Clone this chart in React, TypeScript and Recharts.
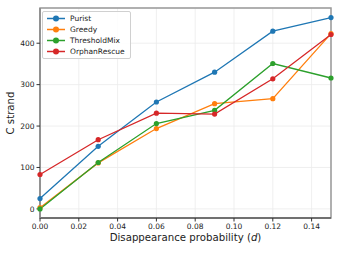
import React from 'react';
import { LineChart, Line, XAxis, YAxis, CartesianGrid, ReferenceArea } from 'recharts';

const probabilities = [0, 0.03, 0.06, 0.09, 0.12, 0.15];
const purist = [25, 151, 258, 330, 429, 462];
const greedy = [3, 111, 194, 254, 266, 423];
const thresholdMix = [0, 112, 206, 238, 351, 316];
const orphanRescue = [83, 167, 231, 229, 314, 421];

const xTicks = [0, 0.02, 0.04, 0.06, 0.08, 0.1, 0.12, 0.14];
const yTicks = [0, 100, 200, 300, 400];

const SERIES = [
  { key: 'purist', name: 'Purist', color: '#1f77b4' },
  { key: 'greedy', name: 'Greedy', color: '#ff7f0e' },
  { key: 'thresholdMix', name: 'ThresholdMix', color: '#2ca02c' },
  { key: 'orphanRescue', name: 'OrphanRescue', color: '#d62728' },
];

const data = probabilities.map((d, i) => ({
  d,
  purist: purist[i],
  greedy: greedy[i],
  thresholdMix: thresholdMix[i],
  orphanRescue: orphanRescue[i],
}));

const FONT = '"DejaVu Sans", sans-serif';

const LegendBox = () => (
  <div
    style={{
      position: 'absolute',
      left: 42,
      top: 11,
      border: '1px solid #d0d0d0',
      borderRadius: 2,
      background: 'rgba(255,255,255,0.85)',
      padding: '1px 5px 1px 3px',
      fontFamily: FONT,
      fontSize: 7.5,
      color: '#222',
      lineHeight: '11px',
    }}
  >
    {SERIES.map((s) => (
      <div key={s.key} style={{ display: 'flex', alignItems: 'center' }}>
        <svg width={20} height={11} style={{ marginRight: 4 }}>
          <line x1={1} y1={5.5} x2={19} y2={5.5} stroke={s.color} strokeWidth={1.5} />
          <circle cx={10} cy={5.5} r={3} fill={s.color} />
        </svg>
        {s.name}
      </div>
    ))}
  </div>
);

export default function App() {
  return (
    <div style={{ position: 'absolute', left: 0, top: 0, width: 339, height: 254, background: '#fff' }}>
      <LineChart width={339} height={254} data={data} margin={{ top: 8, right: 8, left: 0, bottom: 0 }}>
        <CartesianGrid stroke="#ebebeb" strokeWidth={0.8} />
        <XAxis
          dataKey="d"
          type="number"
          domain={[0, 0.15]}
          ticks={xTicks}
          tickFormatter={(v: number) => v.toFixed(2)}
          height={36}
          tickSize={3.5}
          tick={{ fontSize: 7.5, fill: '#222', fontFamily: FONT }}
          axisLine={{ stroke: '#333', strokeWidth: 1 }}
          tickLine={{ stroke: '#333' }}
          label={({ viewBox }: any) => (
            <text
              x={viewBox.x + viewBox.width / 2}
              y={241}
              textAnchor="middle"
              fontSize={10.2}
              fontFamily={FONT}
              fill="#222"
            >
              Disappearance probability (<tspan fontStyle="italic">d</tspan>)
            </text>
          )}
        />
        <YAxis
          type="number"
          domain={[-22, 485]}
          ticks={yTicks}
          width={40}
          tickSize={3.5}
          allowDataOverflow
          tick={{ fontSize: 7.5, fill: '#222', fontFamily: FONT }}
          axisLine={{ stroke: '#888', strokeWidth: 1.5 }}
          tickLine={{ stroke: '#333' }}
          label={({ viewBox }: any) => (
            <text
              x={14}
              y={viewBox.y + viewBox.height / 2}
              textAnchor="middle"
              fontSize={10.2}
              fontFamily={FONT}
              fill="#222"
              transform={`rotate(-90 14 ${viewBox.y + viewBox.height / 2})`}
            >
              C strand
            </text>
          )}
        />
        <ReferenceArea x1={0} x2={0.15} y1={-22} y2={485} fill="none" stroke="#999" strokeWidth={1.5} />
        {SERIES.map((s) => (
          <Line
            key={s.key}
            dataKey={s.key}
            name={s.name}
            stroke={s.color}
            strokeWidth={1.3}
            dot={{ r: 2.6, fill: s.color, stroke: s.color, strokeWidth: 0 }}
            isAnimationActive={false}
          />
        ))}
      </LineChart>
      <LegendBox />
    </div>
  );
}
